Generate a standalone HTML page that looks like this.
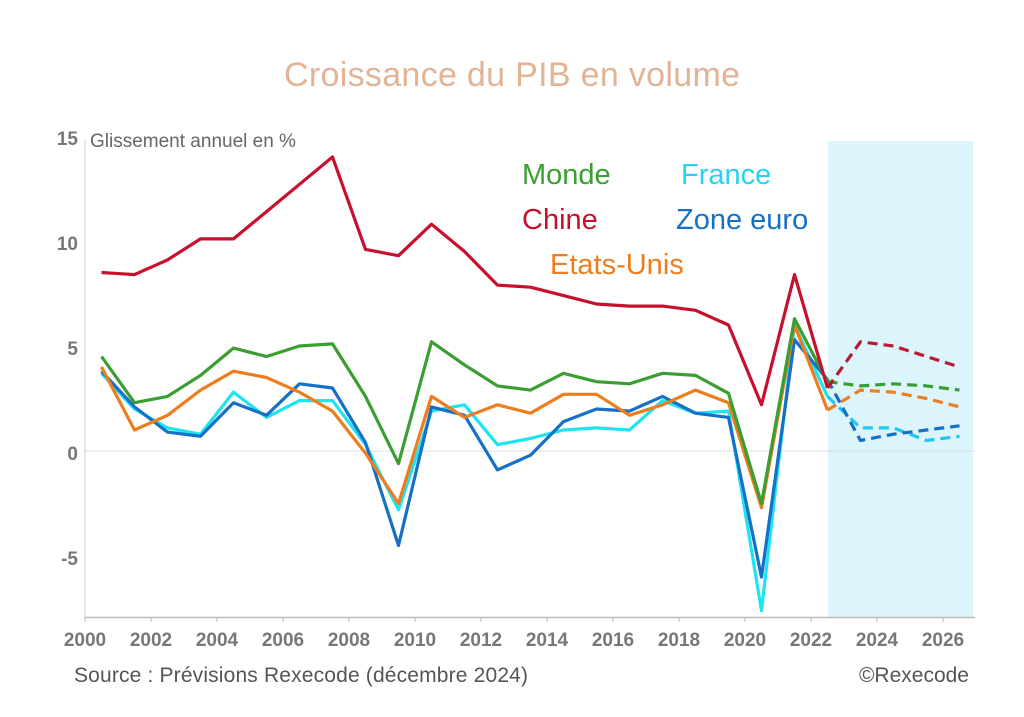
<!DOCTYPE html><html><head><meta charset="utf-8"><style>
body{margin:0;background:#fff;width:1024px;height:712px;overflow:hidden;font-family:"Liberation Sans",sans-serif}
</style></head><body>
<svg id="s" width="1024" height="712" xmlns="http://www.w3.org/2000/svg">
<rect x="828" y="141" width="145" height="476" fill="#dcf5fc"/>
<line x1="85" y1="451" x2="975" y2="451" stroke="#ddd" stroke-width="1"/>
<line x1="85" y1="140" x2="85" y2="618" stroke="#ccc" stroke-width="1"/>
<line x1="85" y1="617.5" x2="975" y2="617.5" stroke="#bbb" stroke-width="1.5"/>
<text x="512" y="86" font-size="34" fill="#e2b394" text-anchor="middle" textLength="456">Croissance du PIB en volume</text>
<text x="90" y="147" font-size="19" fill="#666">Glissement annuel en %</text>
<g font-size="19" fill="#777" text-anchor="end" font-weight="bold">
<text x="78" y="145">15</text><text x="78" y="250">10</text><text x="78" y="355">5</text><text x="78" y="460">0</text><text x="78" y="565">-5</text></g>
<g font-size="29">
<text x="522" y="184" fill="#3a9e32">Monde</text>
<text x="522" y="229" fill="#c8102e">Chine</text>
<text x="550" y="274" fill="#ee7d1e">Etats-Unis</text>
<text x="681" y="184" fill="#29d3f0">France</text>
<text x="676" y="229" fill="#1570c6">Zone euro</text>
</g>
<text x="74" y="682" font-size="21" fill="#555" textLength="454">Source : Prévisions Rexecode (décembre 2024)</text>
<text x="969" y="682" font-size="21" fill="#555" text-anchor="end">©Rexecode</text>
<g id="ax" font-size="19" fill="#777" text-anchor="middle" font-weight="bold"></g>
<g id="ln" fill="none" stroke-width="3.2" stroke-linejoin="round"></g>
</svg>
<script>
var X=function(y){return 85+33*(y-2000)},Y=function(v){return 451-21*v};
var ax=document.getElementById('ax'),ln=document.getElementById('ln'),NS='http://www.w3.org/2000/svg';
for(var y=2000;y<=2026;y+=2){var t=document.createElementNS(NS,'text');t.setAttribute('x',X(y));t.setAttribute('y',646);t.textContent=y;ax.appendChild(t);
var l=document.createElementNS(NS,'line');l.setAttribute('x1',X(y));l.setAttribute('x2',X(y));l.setAttribute('y1',617);l.setAttribute('y2',622);l.setAttribute('stroke','#bbb');ax.appendChild(l);}
var S=[
['#1de4f2',[3.7,2.0,1.1,0.8,2.8,1.6,2.4,2.4,0.3,-2.8,1.9,2.2,0.3,0.6,1.0,1.1,1.0,2.4,1.8,1.9,-7.6,6.0,2.6],[2.6,1.1,1.1,0.5,0.7],'#20c8ec'],
['#1570c6',[3.8,2.1,0.9,0.7,2.3,1.7,3.2,3.0,0.4,-4.5,2.1,1.7,-0.9,-0.2,1.4,2.0,1.9,2.6,1.8,1.6,-6.0,5.3,3.4],[3.4,0.5,0.8,1.0,1.2],'#1570c6'],
['#ee7d1e',[4.0,1.0,1.7,2.9,3.8,3.5,2.8,1.9,-0.1,-2.5,2.6,1.6,2.2,1.8,2.7,2.7,1.7,2.2,2.9,2.3,-2.7,6.0,1.95],[1.95,2.9,2.8,2.5,2.1],'#ee7d1e'],
['#3a9e32',[4.5,2.3,2.6,3.6,4.9,4.5,5.0,5.1,2.6,-0.6,5.2,4.1,3.1,2.9,3.7,3.3,3.2,3.7,3.6,2.75,-2.5,6.3,3.3],[3.3,3.1,3.2,3.1,2.9],'#3a9e32'],
['#c8102e',[8.5,8.4,9.1,10.1,10.1,11.4,12.7,14.0,9.6,9.3,10.8,9.5,7.9,7.8,7.4,7.0,6.9,6.9,6.7,6.0,2.2,8.4,3.0],[3.0,5.2,5.0,4.5,4.0],'#b81a30']];
S.forEach(function(s){
function pl(arr,st,c,dash){var p=arr.map(function(v,i){return X(st+i).toFixed(1)+','+Y(v).toFixed(1)}).join(' ');
var e=document.createElementNS(NS,'polyline');e.setAttribute('points',p);e.setAttribute('stroke',c);if(dash)e.setAttribute('stroke-dasharray','10 6');ln.appendChild(e);}
pl(s[1],2000.5,s[0],false);pl(s[2],2022.5,s[3],true);});
</script>
</body></html>
